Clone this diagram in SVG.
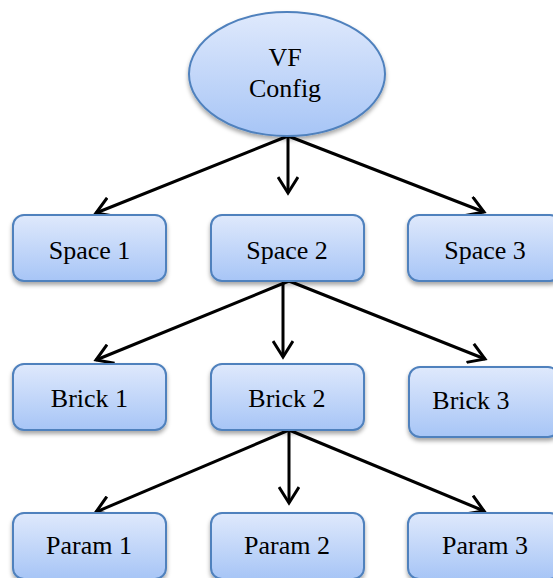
<svg xmlns="http://www.w3.org/2000/svg" width="553" height="578" viewBox="0 0 553 578">
<defs>
<linearGradient id="g" x1="0" y1="0" x2="0" y2="1">
<stop offset="0" stop-color="#dfe9fc"/>
<stop offset="1" stop-color="#a7c5f6"/>
</linearGradient>
<filter id="sh" x="-10%" y="-10%" width="120%" height="130%">
<feDropShadow dx="0" dy="3" stdDeviation="2" flood-color="#000" flood-opacity="0.35"/>
</filter>
<marker id="ah" viewBox="0 0 20 22" refX="17" refY="11" markerWidth="20" markerHeight="22" markerUnits="userSpaceOnUse" orient="auto">
<path d="M1,1 L17,11 L1,21" fill="none" stroke="#000" stroke-width="3"/>
</marker>
</defs>
<style>
.box{fill:url(#g);stroke:#4f81bd;stroke-width:2;filter:url(#sh)}
text{font-size:26px;fill:#000;text-anchor:middle}
.c line{stroke:#000;stroke-width:3;marker-end:url(#ah)}
</style>
<g id="connectors" class="c">
<line x1="288" y1="136" x2="96" y2="213"/>
<line x1="288" y1="136" x2="288" y2="193"/>
<line x1="288" y1="136" x2="484" y2="212"/>
<line x1="289" y1="281" x2="96" y2="360"/>
<line x1="283" y1="283" x2="283" y2="357"/>
<line x1="289" y1="281" x2="485" y2="359"/>
<line x1="289" y1="430" x2="96" y2="512"/>
<line x1="289" y1="432" x2="289" y2="503"/>
<line x1="289" y1="430" x2="484" y2="511"/>
</g>
<g id="vf-config">
<ellipse class="box" cx="287" cy="74" rx="98" ry="62"/>
<text x="285" y="66" font-family="Liberation Serif">VF</text>
<text x="285" y="97" font-family="Liberation Serif">Config</text>
</g>
<g id="space1"><rect class="box" x="13" y="215" width="153" height="66" rx="11"/><text x="89.5" y="259" font-family="Liberation Serif">Space 1</text></g>
<g id="space2"><rect class="box" x="211" y="215" width="153" height="66" rx="11"/><text x="287" y="259" font-family="Liberation Serif">Space 2</text></g>
<g id="space3"><rect class="box" x="408" y="215" width="153" height="66" rx="11"/><text x="485" y="259" font-family="Liberation Serif">Space 3</text></g>
<g id="brick1"><rect class="box" x="13" y="364" width="153" height="66" rx="11"/><text x="89.5" y="407" font-family="Liberation Serif">Brick 1</text></g>
<g id="brick2"><rect class="box" x="211" y="364" width="153" height="66" rx="11"/><text x="287" y="407" font-family="Liberation Serif">Brick 2</text></g>
<g id="brick3"><rect class="box" x="409" y="367" width="150" height="70" rx="11"/><text x="471" y="409" font-family="Liberation Serif">Brick 3</text></g>
<g id="param1"><rect class="box" x="13" y="513" width="153" height="66" rx="11"/><text x="89" y="554" font-family="Liberation Serif">Param 1</text></g>
<g id="param2"><rect class="box" x="211" y="513" width="153" height="66" rx="11"/><text x="287" y="554" font-family="Liberation Serif">Param 2</text></g>
<g id="param3"><rect class="box" x="408" y="513" width="153" height="66" rx="11"/><text x="485" y="554" font-family="Liberation Serif">Param 3</text></g>
</svg>
